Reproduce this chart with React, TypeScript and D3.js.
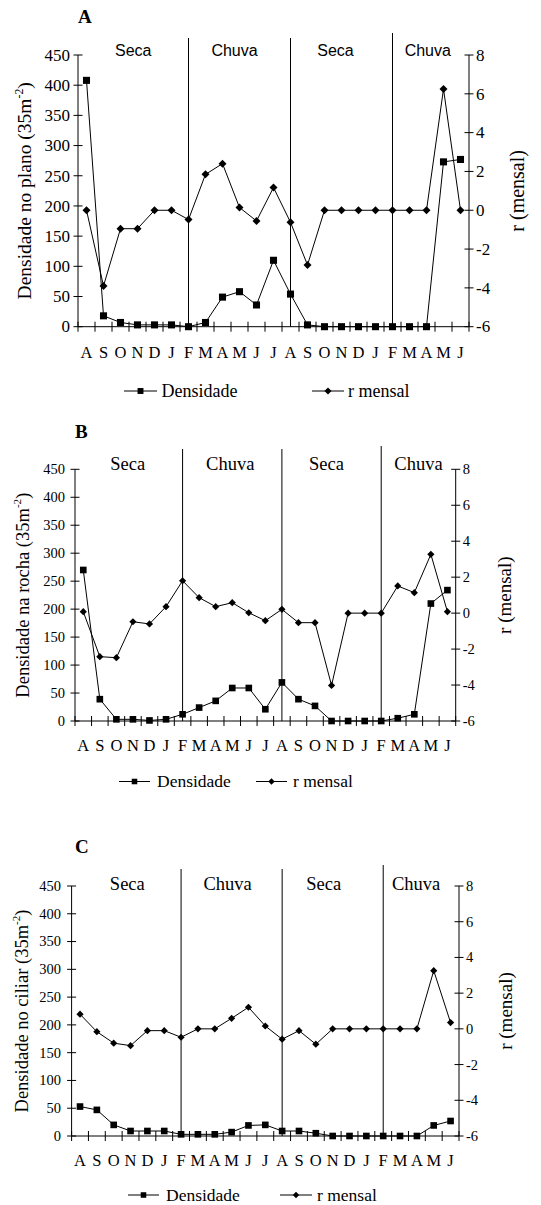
import React from 'react';
import * as d3 from 'd3';

// months Aug -> Jun (two years)
const months = ['A', 'S', 'O', 'N', 'D', 'J', 'F', 'M', 'A', 'M', 'J', 'J', 'A', 'S', 'O', 'N', 'D', 'J', 'F', 'M', 'A', 'M', 'J'];

const densPlano = [408, 18, 7, 3, 3, 3, 0, 7, 49, 58, 36, 110, 54, 3, 0, 0, 0, 0, 0, 0, 0, 273, 277];
const rPlano = [0, -3.9, -0.95, -0.95, 0, 0, -0.48, 1.85, 2.4, 0.14, -0.55, 1.17, -0.62, -2.82, 0, 0, 0, 0, 0, 0, 0, 6.25, 0];

const densRocha = [270, 39, 3, 3, 1, 3, 12, 24, 36, 59, 59, 21, 69, 39, 27, 0, 0, 0, 0, 5, 12, 210, 234];
const rRocha = [0.08, -2.42, -2.48, -0.48, -0.6, 0.36, 1.8, 0.86, 0.36, 0.58, 0.02, -0.42, 0.21, -0.53, -0.53, -4.02, 0, 0, 0, 1.51, 1.14, 3.27, 0.08];

const densCiliar = [53, 47, 20, 9, 9, 9, 3, 3, 3, 7, 19, 20, 9, 9, 5, 0, 0, 0, 0, 0, 0, 19, 27];
const rCiliar = [0.82, -0.16, -0.8, -0.94, -0.1, -0.1, -0.47, 0, 0, 0.59, 1.21, 0.16, -0.58, -0.1, -0.86, 0, 0, 0, 0, 0, 0, 3.26, 0.35];

const leftTicks = [0, 50, 100, 150, 200, 250, 300, 350, 400, 450];
const rightTicks = [-6, -4, -2, 0, 2, 4, 6, 8];
const seasons = ['Seca', 'Chuva', 'Seca', 'Chuva'];
const seasonBreaks = [6, 12, 18]; // F, A, F
const legendNames = ['Densidade', 'r mensal'];

const serif = "'Liberation Serif', 'Times New Roman', serif";
const sans = "'Liberation Sans', Arial, sans-serif";

const panels = [
  {
    letter: 'A', title: 'Densidade no plano', dens: densPlano, r: rPlano,
    left: 78, right: 469, top: 55, bottom: 326.7,
    letterPos: [78, 23], tickFont: 17, lGap: 8, xFont: 16.5, xBase: 358,
    titleX: 30.5, titleFont: 19.5, rTitleX: 524, rTitleFont: 20,
    seasonFont: sans, seasonSize: 16, seasonBase: 56, seasonDx: [0, -5, -6, -3], divTop: [38, 38, 33],
    legendY: 391, legDens: [124, 157, 161.5], legR: [312, 344, 348], legFont: 18,
    sq: 50, di: 32,
  },
  {
    letter: 'B', title: 'Densidade na rocha', dens: densRocha, r: rRocha,
    left: 75, right: 455.7, top: 469.3, bottom: 721,
    letterPos: [75, 438], tickFont: 14.5, lGap: 10, xFont: 16.5, xBase: 750.7,
    titleX: 29, titleFont: 18.5, rTitleX: 510.5, rTitleFont: 19,
    seasonFont: serif, seasonSize: 18.5, seasonBase: 470, seasonDx: [-1, -2, -5, 0], divTop: [449, 449, 446],
    legendY: 781.5, legDens: [119, 150, 157], legR: [256, 287, 293], legFont: 17.5,
    sq: 44, di: 26,
  },
  {
    letter: 'C', title: 'Densidade no ciliar', dens: densCiliar, r: rCiliar,
    left: 71.6, right: 459, top: 886, bottom: 1136,
    letterPos: [75, 853], tickFont: 14.5, lGap: 10.5, xFont: 16.5, xBase: 1165.7,
    titleX: 27.5, titleFont: 18.5, rTitleX: 511.5, rTitleFont: 19,
    seasonFont: serif, seasonSize: 18.5, seasonBase: 889.5, seasonDx: [1, -4, -9, -5], divTop: [869, 869, 865],
    legendY: 1195, legDens: [128, 159, 166], legR: [280, 312, 317], legFont: 17.5,
    sq: 44, di: 26,
  },
];

type P = typeof panels[number];

function Panel({ p }: { p: P }) {
  const x = d3.scaleBand<number>().domain(d3.range(months.length)).range([p.left, p.right]).padding(0);
  const cx = (i: number) => (x(i) as number) + x.bandwidth() / 2;
  const yL = d3.scaleLinear().domain([0, 450]).range([p.bottom, p.top]);
  const yR = d3.scaleLinear().domain([-6, 8]).range([p.bottom, p.top]);

  const lineL = d3.line<number>().x((_, i) => cx(i)).y(d => yL(d));
  const lineR = d3.line<number>().x((_, i) => cx(i)).y(d => yR(d));
  const sq = d3.symbol().type(d3.symbolSquare).size(p.sq)() as string;
  const di = d3.symbol().type(d3.symbolSquare).size(p.di)() as string;
  const sqLeg = d3.symbol().type(d3.symbolSquare).size(p.sq * 0.7)() as string;
  const diLeg = d3.symbol().type(d3.symbolSquare).size(p.di * 0.8)() as string;

  const bounds = [p.left, ...seasonBreaks.map(cx), p.right];
  const midY = (p.top + p.bottom) / 2;

  return (
    <g>
      <text x={p.letterPos[0]} y={p.letterPos[1]} fontFamily={serif} fontWeight="bold" fontSize={19}>{p.letter}</text>

      {/* season dividers */}
      {seasonBreaks.map((b, i) => (
        <line key={'dv' + i} x1={cx(b)} x2={cx(b)} y1={p.divTop[i]} y2={yL(0)} stroke="#000" strokeWidth={1} />
      ))}
      {seasons.map((s, i) => (
        <text key={'s' + i} x={(bounds[i] + bounds[i + 1]) / 2 + p.seasonDx[i]} y={p.seasonBase} textAnchor="middle"
          fontFamily={p.seasonFont} fontSize={p.seasonSize}>{s}</text>
      ))}

      {/* axes */}
      <line x1={p.left} x2={p.left} y1={p.top} y2={p.bottom} stroke="#000" />
      <line x1={p.right} x2={p.right} y1={p.top} y2={p.bottom} stroke="#000" />
      <line x1={p.left} x2={p.right} y1={p.bottom} y2={p.bottom} stroke="#000" />

      {leftTicks.map(t => (
        <g key={'l' + t}>
          <line x1={p.left - 4.5} x2={p.left + 4.5} y1={yL(t)} y2={yL(t)} stroke="#000" />
          <text x={p.left - p.lGap} y={yL(t)} dy="0.34em" textAnchor="end" fontFamily={serif} fontSize={p.tickFont}>{t}</text>
        </g>
      ))}
      {rightTicks.map(t => (
        <g key={'r' + t}>
          <line x1={p.right - 4.5} x2={p.right + 4.5} y1={yR(t)} y2={yR(t)} stroke="#000" />
          <text x={p.right + 7} y={yR(t)} dy="0.34em" fontFamily={serif} fontSize={p.tickFont}>{t}</text>
        </g>
      ))}
      {d3.range(months.length + 1).map(k => {
        const xx = p.left + k * x.step();
        return <line key={'xt' + k} x1={xx} x2={xx} y1={p.bottom - 5} y2={p.bottom + 5} stroke="#000" />;
      })}
      {months.map((m, i) => (
        <text key={'m' + i} x={cx(i)} y={p.xBase} textAnchor="middle" fontFamily={serif} fontSize={p.xFont}>{m}</text>
      ))}

      {/* axis titles */}
      <text transform={`translate(${p.titleX},${midY}) rotate(-90)`} textAnchor="middle" fontFamily={serif} fontSize={p.titleFont}>
        {p.title} (35m<tspan dy={-8} fontSize={p.titleFont * 0.6}>-2</tspan><tspan dy={8}>)</tspan>
      </text>
      <text transform={`translate(${p.rTitleX},${midY}) rotate(-90)`} textAnchor="middle" fontFamily={serif} fontSize={p.rTitleFont}>
        r (mensal)
      </text>

      {/* series */}
      <path d={lineL(p.dens) as string} fill="none" stroke="#000" strokeWidth={1} />
      <path d={lineR(p.r) as string} fill="none" stroke="#000" strokeWidth={1} />
      {p.dens.map((v, i) => (
        <path key={'q' + i} d={sq} transform={`translate(${cx(i)},${yL(v)})`} fill="#000" />
      ))}
      {p.r.map((v, i) => (
        <path key={'d' + i} d={di} transform={`translate(${cx(i)},${yR(v)}) rotate(45)`} fill="#000" />
      ))}

      {/* legend */}
      <line x1={p.legDens[0]} x2={p.legDens[1]} y1={p.legendY} y2={p.legendY} stroke="#000" />
      <path d={sqLeg} transform={`translate(${(p.legDens[0] + p.legDens[1]) / 2},${p.legendY})`} fill="#000" />
      <text x={p.legDens[2]} y={p.legendY + 5.5} fontFamily={serif} fontSize={p.legFont}>{legendNames[0]}</text>
      <line x1={p.legR[0]} x2={p.legR[1]} y1={p.legendY} y2={p.legendY} stroke="#000" />
      <path d={diLeg} transform={`translate(${(p.legR[0] + p.legR[1]) / 2},${p.legendY}) rotate(45)`} fill="#000" />
      <text x={p.legR[2]} y={p.legendY + 5.5} fontFamily={serif} fontSize={p.legFont}>{legendNames[1]}</text>
    </g>
  );
}

export default function App() {
  return (
    <svg width={541} height={1205} style={{ position: 'absolute', left: 0, top: 0, background: '#fff' }}>
      <rect width={541} height={1205} fill="#fff" />
      {panels.map(p => <Panel key={p.letter} p={p} />)}
    </svg>
  );
}
